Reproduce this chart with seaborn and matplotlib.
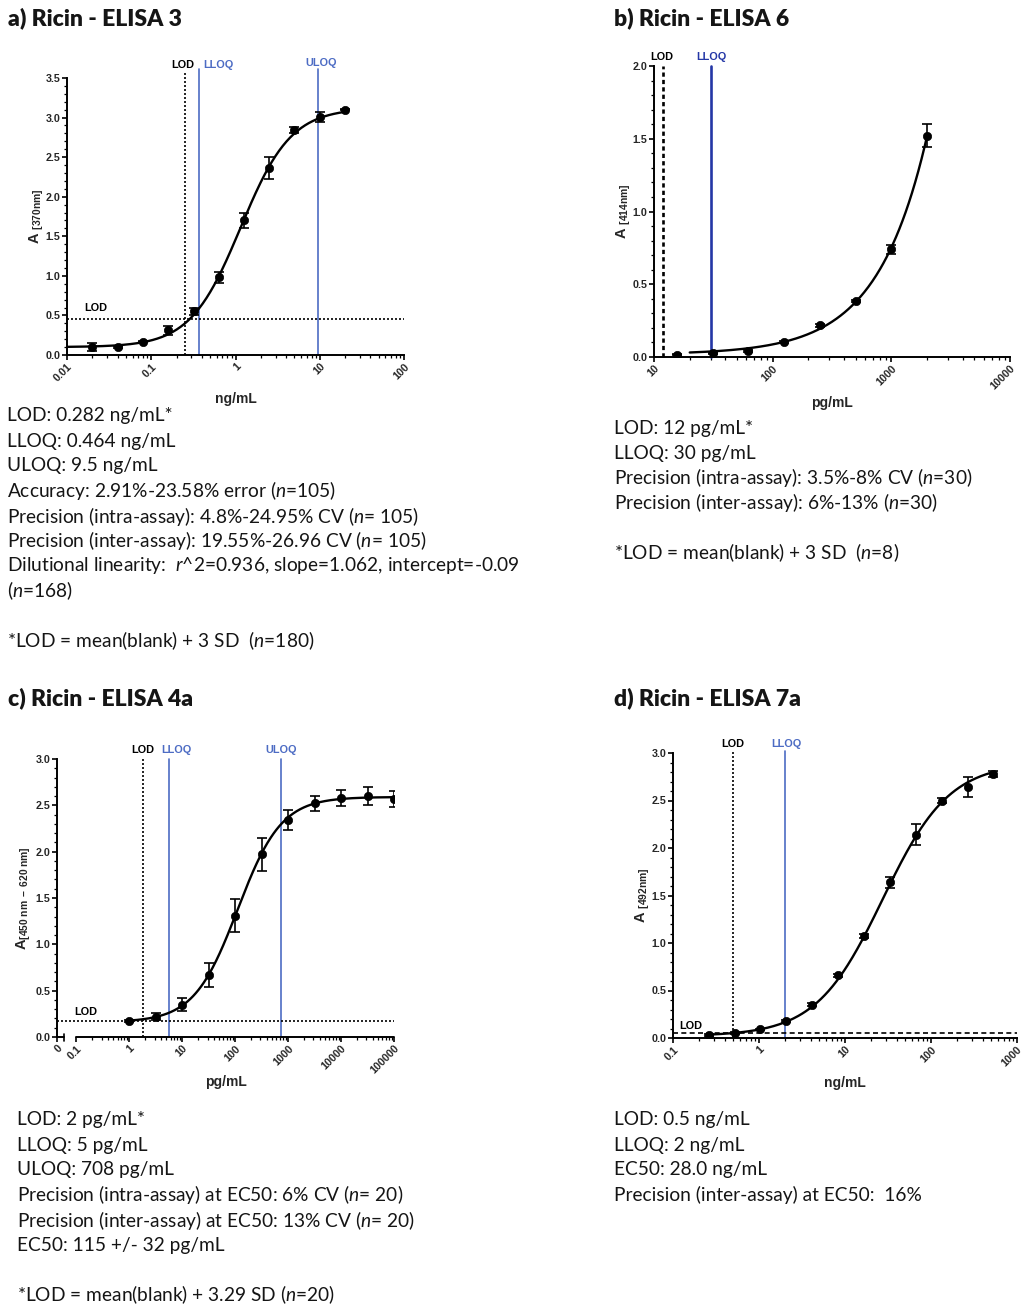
import numpy as np
import seaborn as sns
import matplotlib.pyplot as plt
from matplotlib import font_manager
from matplotlib.ticker import FixedLocator, FixedFormatter, MultipleLocator, FormatStrFormatter

# ---------------- data ----------------
# a) Ricin - ELISA 3 (ng/mL)
a_conc = [0.02, 0.04, 0.08, 0.16, 0.32, 0.63, 1.25, 2.5, 5, 10, 20]
a_abs = [0.10, 0.10, 0.17, 0.31, 0.55, 0.98, 1.70, 2.36, 2.84, 3.01, 3.10]
a_err = [0.05, 0.01, 0.01, 0.06, 0.05, 0.07, 0.09, 0.14, 0.04, 0.06, 0.01]
a_fit = (0.10, 3.12, 1.15, 1.45)          # bottom, top, EC50, hill
a_lod, a_lloq, a_uloq, a_lod_abs = 0.25, 0.37, 9.65, 0.455

# b) Ricin - ELISA 6 (pg/mL)
b_conc = [15.6, 31.25, 62.5, 125, 250, 500, 1000, 2000]
b_abs = [0.016, 0.025, 0.041, 0.105, 0.218, 0.385, 0.74, 1.52]
b_err = [0.005, 0.005, 0.005, 0.008, 0.01, 0.01, 0.03, 0.08]
b_fit = (0.018, 5.97e-4, 1.03)            # offset, scale, power
b_lod, b_lloq = 12, 30

# c) Ricin - ELISA 4a (pg/mL)
c_conc = [1, 3.16, 10, 31.6, 100, 316, 1000, 3160, 10000, 31600, 100000]
c_abs = [0.17, 0.22, 0.35, 0.67, 1.31, 1.97, 2.34, 2.52, 2.58, 2.60, 2.57]
c_err = [0.01, 0.04, 0.07, 0.13, 0.18, 0.18, 0.11, 0.08, 0.085, 0.10, 0.09]
c_fit = (0.16, 2.59, 111, 1.05)
c_lod, c_lloq, c_uloq, c_lod_abs = 1.8, 5.7, 740, 0.176

# d) Ricin - ELISA 7a (ng/mL)
d_conc = [0.26, 0.52, 1.04, 2.08, 4.17, 8.33, 16.7, 33.3, 66.7, 133, 267, 533]
d_abs = [0.03, 0.05, 0.09, 0.18, 0.35, 0.66, 1.07, 1.64, 2.14, 2.50, 2.64, 2.78]
d_err = [0.01, 0.01, 0.01, 0.01, 0.015, 0.015, 0.02, 0.06, 0.11, 0.03, 0.105, 0.035]
d_fit = (0.02, 2.90, 27.4, 1.12)
d_lod, d_lloq, d_lod_abs = 0.5, 2.0, 0.056

titles = ["a) Ricin - ELISA 3", "b) Ricin - ELISA 6",
          "c) Ricin - ELISA 4a", "d) Ricin - ELISA 7a"]

a_notes = [
    "LOD: 0.282 ng/mL*",
    "LLOQ: 0.464 ng/mL",
    "ULOQ: 9.5 ng/mL",
    "Accuracy: 2.91%-23.58% error ($\\mathit{n}$=105)",
    "Precision (intra-assay): 4.8%-24.95% CV ($\\mathit{n}$= 105)",
    "Precision (inter-assay): 19.55%-26.96 CV ($\\mathit{n}$= 105)",
    "Dilutional linearity:  $\\mathit{r}$^2=0.936, slope=1.062, intercept=-0.09",
    "($\\mathit{n}$=168)",
    "",
    "*LOD = mean(blank) + 3 SD  ($\\mathit{n}$=180)",
]
b_notes = [
    "LOD: 12 pg/mL*",
    "LLOQ: 30 pg/mL",
    "Precision (intra-assay): 3.5%-8% CV ($\\mathit{n}$=30)",
    "Precision (inter-assay): 6%-13% ($\\mathit{n}$=30)",
    "",
    "*LOD = mean(blank) + 3 SD  ($\\mathit{n}$=8)",
]
c_notes = [
    "LOD: 2 pg/mL*",
    "LLOQ: 5 pg/mL",
    "ULOQ: 708 pg/mL",
    "Precision (intra-assay) at EC50: 6% CV ($\\mathit{n}$= 20)",
    "Precision (inter-assay) at EC50: 13% CV ($\\mathit{n}$= 20)",
    "EC50: 115 +/- 32 pg/mL",
    "",
    "*LOD = mean(blank) + 3.29 SD ($\\mathit{n}$=20)",
]
d_notes = [
    "LOD: 0.5 ng/mL",
    "LLOQ: 2 ng/mL",
    "EC50: 28.0 ng/mL",
    "Precision (inter-assay) at EC50:  16%",
]

# ---------------- style ----------------
sns.set_theme(style="ticks")
installed = {f.name for f in font_manager.fontManager.ttflist}
TITLE_FONT = "Liberation Sans Narrow" if "Liberation Sans Narrow" in installed else "Lato"
BODY_FONT = "Lato"
plt.rcParams["font.family"] = ["Liberation Sans", "DejaVu Sans"]
plt.rcParams["mathtext.fontset"] = "custom"
plt.rcParams["mathtext.rm"] = "Liberation Sans:bold"
plt.rcParams["mathtext.bf"] = "Liberation Sans:bold"
plt.rcParams["mathtext.it"] = "Lato:italic"

BLUE = "#4d6cc4"
DARK_BLUE = "#2437a6"
W, H = 1024, 1311

fig = plt.figure(figsize=(W / 100, H / 100), dpi=100)
fig.patch.set_facecolor("white")


def px_axes(left, top, right, bottom):
    return fig.add_axes([left / W, 1 - bottom / H, (right - left) / W, (bottom - top) / H])


def four_pl(x, bottom, top, ec50, hill):
    return bottom + (top - bottom) / (1 + (ec50 / x) ** hill)


def style_axes(ax, ymax, ticks, labels, xlabel, ylabel, ylab_x):
    ax.set_xscale("log")
    ax.set_ylim(0, ymax)
    ax.yaxis.set_major_locator(MultipleLocator(0.5))
    ax.yaxis.set_minor_locator(MultipleLocator(0.1))
    ax.yaxis.set_major_formatter(FormatStrFormatter("%.1f"))
    ax.xaxis.set_major_locator(FixedLocator(ticks))
    ax.xaxis.set_major_formatter(FixedFormatter(labels))
    sns.despine(ax=ax)
    for s in ("left", "bottom"):
        ax.spines[s].set_linewidth(1.4)
        ax.spines[s].set_color("black")
    ax.tick_params(which="major", length=3.8, width=1.2, color="black",
                   labelsize=7.7, pad=0.8)
    ax.tick_params(which="minor", length=2.3, width=0.9, color="black")
    for lab in ax.get_xticklabels() + ax.get_yticklabels():
        lab.set_fontweight("bold")
    plt.setp(ax.get_xticklabels(), rotation=45, ha="right", rotation_mode="anchor")
    ax.set_xlabel(xlabel, fontsize=10, fontweight="bold")
    ax.xaxis.set_label_coords(0.5, -0.135)
    ax.set_ylabel(ylabel, fontsize=10.5, fontweight="bold")
    ax.yaxis.set_label_coords(ylab_x, 0.5)
    ax.set_facecolor("white")


def draw_points(ax, conc, absb, err, cx, cy):
    sns.lineplot(x=cx, y=cy, color="black", lw=1.7, ax=ax, zorder=3)
    ax.errorbar(conc, absb, yerr=err, fmt="none", ecolor="black",
                elinewidth=1.2, capsize=3.4, capthick=1.2, zorder=4)
    sns.scatterplot(x=conc, y=absb, color="black", s=36, edgecolor="black",
                    linewidth=0.5, ax=ax, zorder=5, legend=False)


def vline(ax, x, top, color, ls, lw=1.2):
    ax.plot([x, x], [0, top], color=color, ls=ls, lw=lw, clip_on=False, zorder=2)


def label(ax, x, y, txt, color="black"):
    ax.text(x, y, txt, ha="center", va="center", fontsize=7.8,
            fontweight="bold", color=color)


DOT = (0, (1.2, 1.2))

# ---------------- a) ----------------
ax = px_axes(67, 78, 404, 355)
ax.set_xlim(0.01, 100)
cx = np.logspace(np.log10(0.01), np.log10(20), 300)
draw_points(ax, a_conc, a_abs, a_err, cx, four_pl(cx, *a_fit))
vline(ax, a_lod, 3.59, "black", DOT)
vline(ax, a_lloq, 3.61, BLUE, "-")
vline(ax, a_uloq, 3.62, BLUE, "-")
ax.axhline(a_lod_abs, color="black", ls=DOT, lw=1.2, zorder=2)
label(ax, 0.235, 3.66, "LOD")
label(ax, 0.62, 3.66, "LLOQ", BLUE)
label(ax, 10.3, 3.69, "ULOQ", BLUE)
label(ax, 0.0217, 0.60, "LOD")
style_axes(ax, 3.5, [0.01, 0.1, 1, 10, 100], ["0.01", "0.1", "1", "10", "100"],
           "ng/mL", r"A $_\mathrm{[370nm]}$", -0.062)

# ---------------- b) ----------------
ax = px_axes(654, 66, 1010, 357)
ax.set_xlim(10, 10000)
cx = np.logspace(np.log10(20), np.log10(2000), 300)
draw_points(ax, b_conc, b_abs, b_err, cx, b_fit[0] + b_fit[1] * cx ** b_fit[2])
vline(ax, b_lod, 2.0, "black", (0, (1.6, 1.2)), lw=1.9)
vline(ax, b_lloq, 2.0, DARK_BLUE, "-", lw=1.9)
label(ax, 11.6, 2.065, "LOD")
label(ax, 30.5, 2.065, "LLOQ", DARK_BLUE)
style_axes(ax, 2.0, [10, 100, 1000, 10000], ["10", "100", "1000", "10000"],
           "pg/mL", r"A $_\mathrm{[414nm]}$", -0.06)

# ---------------- c) ----------------
ax = px_axes(57, 759, 394, 1037)
x_zero = 10 ** -1.367
ax.set_xlim(x_zero, 100000)
cx = np.logspace(0, 5, 300)
draw_points(ax, c_conc, c_abs, c_err, cx, four_pl(cx, *c_fit))
vline(ax, c_lod, 3.0, "black", DOT)
vline(ax, c_lloq, 3.0, BLUE, "-")
vline(ax, c_uloq, 3.0, BLUE, "-")
ax.plot([x_zero, 100000], [c_lod_abs] * 2, color="black", ls=DOT, lw=1.2, zorder=2)
label(ax, 1.77, 3.10, "LOD")
label(ax, 7.6, 3.10, "LLOQ", BLUE)
label(ax, 747, 3.10, "ULOQ", BLUE)
label(ax, 0.15, 0.274, "LOD")
style_axes(ax, 3.0, [x_zero, 0.1, 1, 10, 100, 1000, 10000, 100000],
           ["0", "0.1", "1", "10", "100", "1000", "10000", "100000"],
           "pg/mL", r"A$_\mathrm{[450\ nm\ -\ 620\ nm]}$", -0.07)
ax.xaxis.set_minor_locator(FixedLocator(
    [k * 10.0 ** e for e in range(-1, 5) for k in range(2, 10)]))
ax.spines["bottom"].set_visible(False)
brk0, brk1 = 0.0197, 0.0573
ax.plot([0, brk0], [0, 0], color="black", lw=1.4, transform=ax.transAxes, clip_on=False)
ax.plot([brk1, 1], [0, 0], color="black", lw=1.4, transform=ax.transAxes, clip_on=False)
ax.plot([brk0, brk0], [-0.016, 0.012], color="black", lw=1.2,
        transform=ax.transAxes, clip_on=False)

# ---------------- d) ----------------
ax = px_axes(673, 753, 1017, 1038)
ax.set_xlim(0.1, 1000)
cx = np.logspace(np.log10(0.26), np.log10(533), 300)
draw_points(ax, d_conc, d_abs, d_err, cx, four_pl(cx, *d_fit))
vline(ax, d_lod, 3.02, "black", DOT)
vline(ax, d_lloq, 3.02, BLUE, "-")
ax.axhline(d_lod_abs, color="black", ls=(0, (3, 2)), lw=1.2, zorder=2)
label(ax, 0.5, 3.09, "LOD")
label(ax, 2.06, 3.09, "LLOQ", BLUE)
label(ax, 0.159, 0.123, "LOD")
style_axes(ax, 3.0, [0.1, 1, 10, 100, 1000], ["0.1", "1", "10", "100", "1000"],
           "ng/mL", r"A $_\mathrm{[492nm]}$", -0.062)

# ---------------- titles and notes ----------------
for (x, y), t in zip([(8, 18), (614, 18), (8, 698), (614, 698)], titles):
    fig.text(x / W, 1 - y / H, t, fontsize=16.5, fontweight="heavy",
             family=[TITLE_FONT, "DejaVu Sans"], va="center", ha="left",
             color="#151515")


def notes(x, y0, lines):
    for i, line in enumerate(lines):
        if line:
            fig.text(x / W, 1 - (y0 + 25 * i) / H, line, fontsize=13.8,
                     family=[BODY_FONT, "DejaVu Sans"], va="center", ha="left",
                     color="#151515")


notes(7, 416, a_notes)
notes(614, 428, b_notes)
notes(17, 1120, c_notes)
notes(614, 1120, d_notes)

fig.savefig("out.png", dpi=100, facecolor="white")
